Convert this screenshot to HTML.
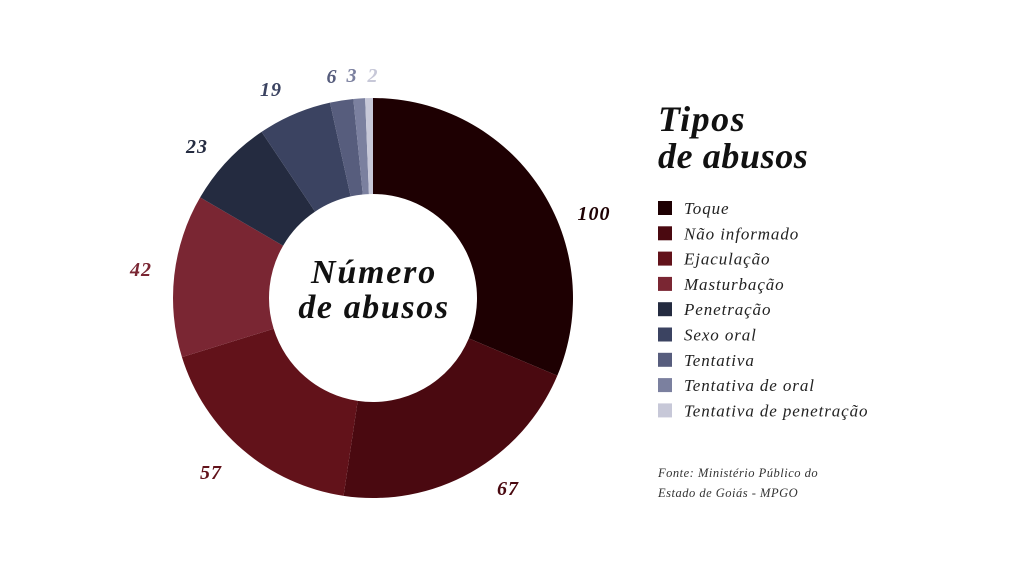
<!DOCTYPE html>
<html><head><meta charset="utf-8"><style>
body{margin:0;width:1024px;height:576px;background:#fff;overflow:hidden}
svg text{font-family:"Liberation Serif","DejaVu Serif",serif}
</style></head><body>
<svg id="s" width="1024" height="576" xmlns="http://www.w3.org/2000/svg">
<g id="pie"></g>
<text x="374" y="283" text-anchor="middle" font-size="34" font-weight="bold" font-style="italic" fill="#111" letter-spacing="1.8">Número</text>
<text x="374" y="318" text-anchor="middle" font-size="34" font-weight="bold" font-style="italic" fill="#111" letter-spacing="1.6">de abusos</text>
<text x="658" y="131" font-size="36" font-weight="bold" font-style="italic" fill="#111" letter-spacing="1.5">Tipos</text>
<text x="658" y="168" font-size="36" font-weight="bold" font-style="italic" fill="#111" letter-spacing="0.6">de abusos</text>
<g id="leg" font-size="17" font-style="italic" fill="#222" letter-spacing="0.9"></g>
<text x="658" y="477" font-size="12.5" font-style="italic" fill="#333" letter-spacing="0.5">Fonte: Ministério Público do</text>
<text x="658" y="497" font-size="12.5" font-style="italic" fill="#333" letter-spacing="0.5">Estado de Goiás - MPGO</text>
<g id="lab" font-size="20" font-weight="bold" font-style="italic" letter-spacing="1"></g>
</svg>
<script>
var d=[["Toque",100,"#1e0002",594,220],["Não informado",67,"#4a0910",508,495],["Ejaculação",57,"#62121a",211,479],["Masturbação",42,"#7a2633",141,276],["Penetração",23,"#242b40",197,153],["Sexo oral",19,"#3b4361",271,96],["Tentativa",6,"#575d7d",332,83],["Tentativa de oral",3,"#7b809f",352,82],["Tentativa de penetração",2,"#c7c8d8",373,82]];
var cx=373,cy=298,R=200,r=104,tot=319,a=0,p="",l="",g="";
function pt(rad,an){return [cx+rad*Math.sin(an),cy-rad*Math.cos(an)];}
d.forEach(function(e,i){var a0=a/tot*2*Math.PI;a+=e[1];var a1=a/tot*2*Math.PI;var lg=(a1-a0)>Math.PI?1:0;
var p1=pt(R,a0),p2=pt(R,a1),p3=pt(r,a1),p4=pt(r,a0);
p+='<path d="M'+p1+' A'+R+','+R+' 0 '+lg+' 1 '+p2+' L'+p3+' A'+r+','+r+' 0 '+lg+' 0 '+p4+'Z" fill="'+e[2]+'"/>';
l+='<text x="'+e[3]+'" y="'+e[4]+'" text-anchor="middle" fill="'+e[2]+'">'+e[1]+'</text>';
var y=201+i*25.3;g+='<rect x="658" y="'+y+'" width="14" height="14" fill="'+e[2]+'"/><text x="684" y="'+(y+13)+'">'+e[0]+'</text>';});
document.getElementById("pie").innerHTML=p;document.getElementById("lab").innerHTML=l;document.getElementById("leg").innerHTML=g;
</script>
</body></html>
